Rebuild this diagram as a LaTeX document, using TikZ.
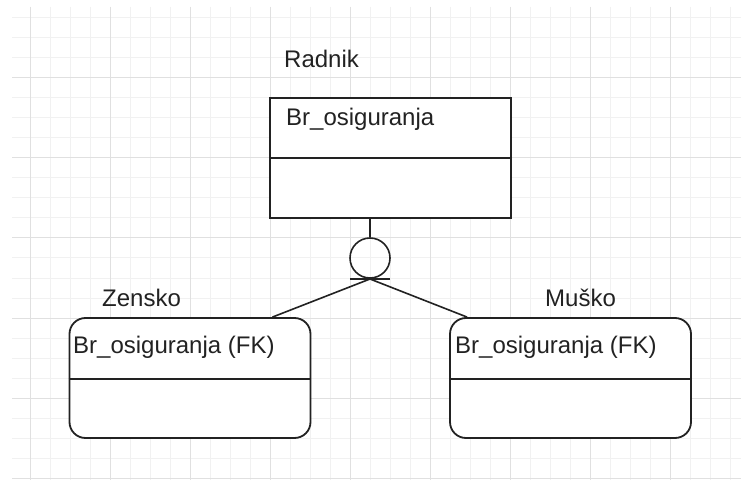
\documentclass[tikz,border=0pt]{standalone}
\usepackage{fontspec}
\setmainfont{Liberation Sans}
\usetikzlibrary{calc}
\definecolor{gridminor}{HTML}{F1F1F1}
\definecolor{gridmajor}{HTML}{E0E0E0}
\definecolor{ink}{HTML}{222222}
\tikzset{
  lbl/.style={anchor=base west, inner sep=0pt, text=ink, font=\fontsize{24}{28}\selectfont},
  entity/.style={draw=ink, line width=1.8pt, fill=white, minimum width=241pt, minimum height=120pt, inner sep=0pt},
  subent/.style={entity, rounded corners=16pt},
  conn/.style={draw=ink, line width=1.6pt},
}
\begin{document}
\begin{tikzpicture}[x=1pt,y=-1pt]
\useasboundingbox (0,0) rectangle (741,486);
\fill[white] (0,0) rectangle (741,486);
% grid
\foreach \x in {30,50,...,730} \draw[gridminor, line width=1pt] (\x,7) -- (\x,480);
\foreach \y in {18,38,...,478} \draw[gridminor, line width=1pt] (12,\y) -- (741,\y);
\foreach \x in {30,110,...,730} \draw[gridmajor, line width=1pt] (\x,7) -- (\x,480);
\foreach \y in {78,158,...,478} \draw[gridmajor, line width=1pt] (12,\y) -- (741,\y);
% entities
\node[entity] (radnik) at (390.5,158) {};
\draw[conn, line width=1.8pt] (radnik.west) -- (radnik.east);
\node[subent] (zensko) at (190,378) {};
\draw[conn, line width=1.8pt] (zensko.west |- 0,379) -- (zensko.east |- 0,379);
\node[subent] (musko) at (570.5,378) {};
\draw[conn, line width=1.8pt] (musko.west |- 0,379) -- (musko.east |- 0,379);
% labels
\node[lbl] (tRadnik) at (284,68) {Radnik};
\node[lbl] (aRadnik) at (286,126) {Br\_osiguranja};
\node[lbl] (tZensko) at (102,306) {Zensko};
\node[lbl] (tMusko) at (545,306) {Muško};
\node[lbl] (aZensko) at (73,353) {Br\_osiguranja (FK)};
\node[lbl] (aMusko) at (455,353) {Br\_osiguranja (FK)};
% disjoint symbol
\node[circle, draw=ink, line width=1.6pt, minimum size=40pt, inner sep=0pt] (disj) at (370,258) {};
\coordinate (bar) at (370,279);
\draw[conn] (radnik.south -| disj) -- (disj.north);
\draw[conn] ($(bar)+(-20,0)$) -- ($(bar)+(20,0)$);
\draw[conn] (bar) -- ($(zensko.north east)+(-39,0)$);
\draw[conn] (bar) -- ($(musko.north west)+(18,0)$);
\end{tikzpicture}
\end{document}
